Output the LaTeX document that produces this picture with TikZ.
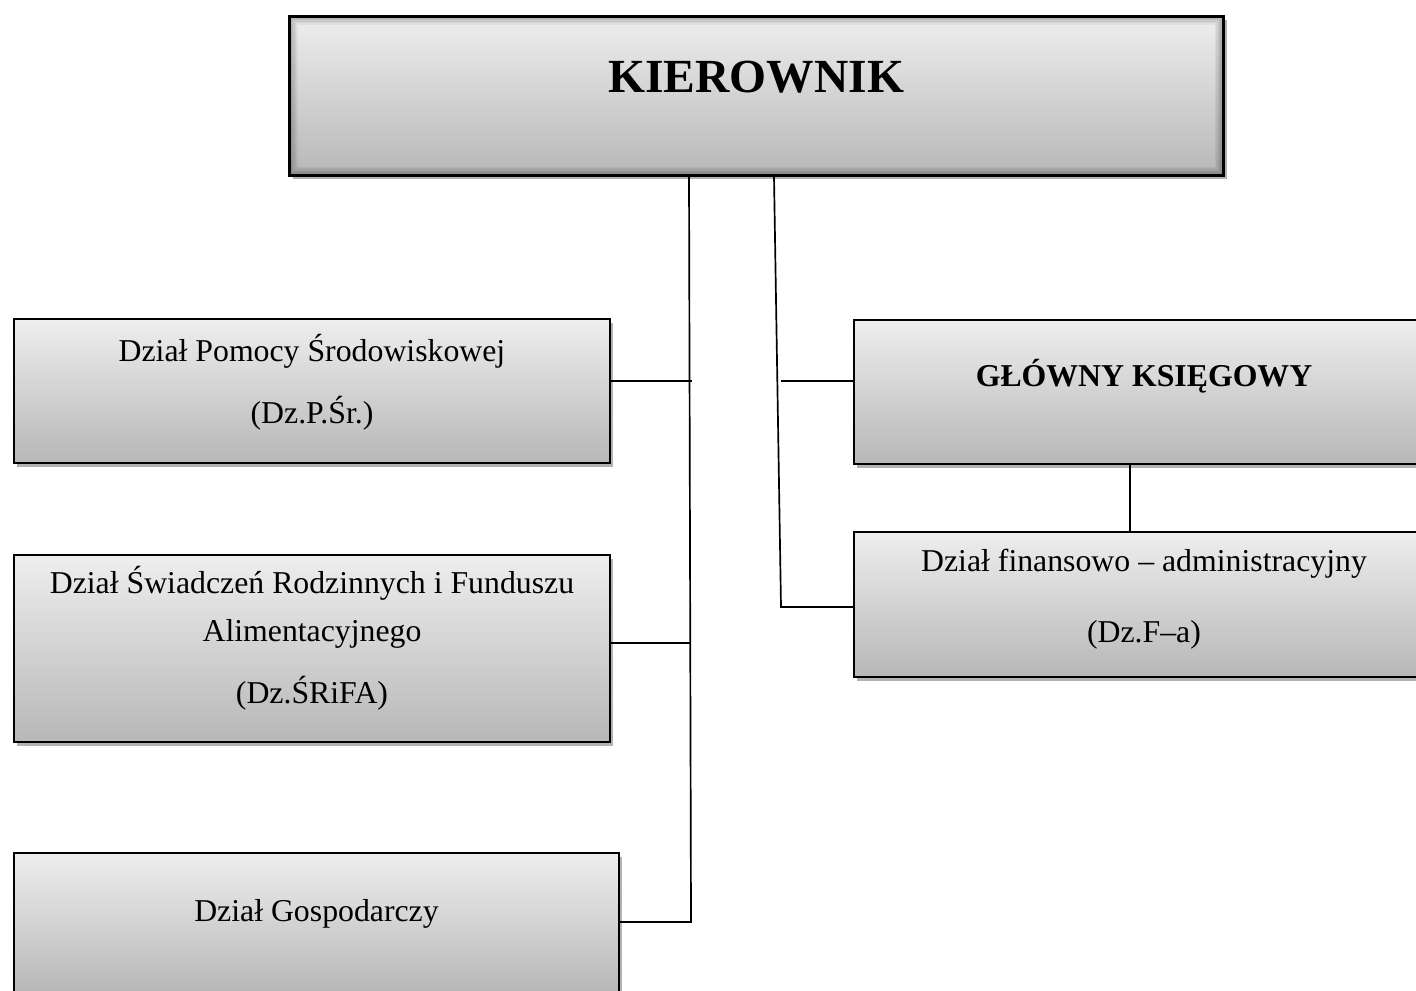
\documentclass[tikz,border=0pt]{standalone}
\usepackage{fontspec}
\setmainfont{Liberation Serif}
\usetikzlibrary{positioning,shadows}
\definecolor{boxtop}{RGB}{238,238,238}
\definecolor{boxbot}{RGB}{183,183,183}
\newlength\pxunit
\setlength\pxunit{0.0125cm}
\tikzset{%
  every unit/.style={
    rectangle,
    draw,
    line width=0.7pt,
    top color=boxtop,
    bottom color=boxbot,
    drop shadow={shadow xshift=1.2pt, shadow yshift=-1.4pt, fill=black, opacity=0.3},
    anchor=north west,
    inner sep=0pt
  },
  unit chief/.style={
    line width=0.9pt,
    path picture={
      \foreach \w in {1,2,...,6}
        \draw [black, opacity=0.05, line width=\w pt]
          (path picture bounding box.south west) rectangle (path picture bounding box.north east);
    }
  },
  unit text/.style={
    anchor=base,
    font=\fontsize{11.3}{13.5}\selectfont
  },
  link/.style={
    line width=0.6pt
  },
}
\begin{document}
\begin{tikzpicture}[x=0.0125cm, y=-0.0125cm]

\useasboundingbox (0,0) rectangle (1416,991);

% Head of the unit
\node [every unit, unit chief, minimum width=934*\pxunit, minimum height=159*\pxunit] (chief) at (288,15) {};
\node [unit text, font=\fontsize{16.9}{20}\selectfont\bfseries] (chief-t) at (chief.north |- 0,93) {KIEROWNIK};

% Left branch
\node [every unit, minimum width=596*\pxunit, minimum height=144*\pxunit] (dps) at (13,318) {};
\node [every unit, minimum width=596*\pxunit, minimum height=187*\pxunit] (dsr) at (13,554) {};
\node [every unit, minimum width=605*\pxunit, minimum height=140*\pxunit] (dgo) at (13,852) {};

\node [unit text] (dps-1) at (dps.north |- 0,362) {Dział Pomocy Środowiskowej};
\node [unit text] (dps-2) at (dps.north |- 0,424) {(Dz.P.Śr.)};
\node [unit text] (dsr-1) at (dsr.north |- 0,594) {Dział Świadczeń Rodzinnych i Funduszu};
\node [unit text] (dsr-2) at (dsr.north |- 0,641) {Alimentacyjnego};
\node [unit text] (dsr-3) at (dsr.north |- 0,703) {(Dz.ŚRiFA)};
\node [unit text] (dgo-1) at (dgo.north |- 0,921) {Dział Gospodarczy};

% Right branch
\node [every unit, minimum width=580*\pxunit, minimum height=144*\pxunit] (gks) at (853,319) {};
\node [every unit, minimum width=580*\pxunit, minimum height=145*\pxunit] (dfa) at (853,531) {};

\node [unit text, font=\fontsize{11.3}{13.5}\selectfont\bfseries] (gks-1) at (gks.north |- 0,387) {GŁÓWNY KSIĘGOWY};
\node [unit text] (dfa-1) at (dfa.north |- 0,572) {Dział finansowo – administracyjny};
\node [unit text] (dfa-2) at (dfa.north |- 0,642) {(Dz.F–a)};

% Connectors
\coordinate (lfoot) at (691,922);
\coordinate (lmid-1) at (692,381);
\coordinate (lmid-2) at (690,643);
\coordinate (rfoot) at (781,607);
\coordinate (rmid) at (781,381);

\draw [link] (chief.south -| 689,0) -- (lfoot) -- (dgo.east |- lfoot);
\draw [link] (dps.east |- lmid-1) -- (lmid-1);
\draw [link] (dsr.east |- lmid-2) -- (lmid-2);

\draw [link] (chief.south -| 774,0) -- (rfoot) -- (dfa.west |- rfoot);
\draw [link] (rmid) -- (gks.west |- rmid);
\draw [link] (gks.south -| 1130,0) -- (dfa.north -| 1130,0);

\end{tikzpicture}
\end{document}
